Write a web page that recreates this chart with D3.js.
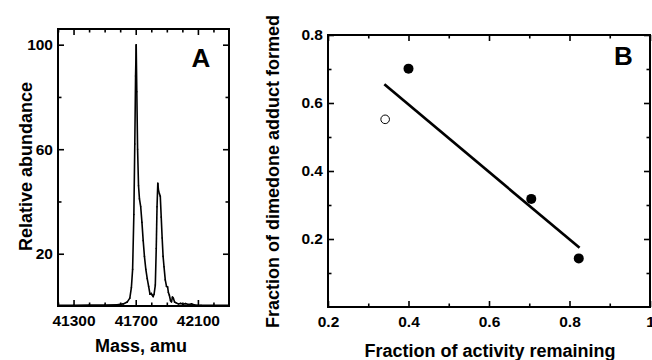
<!DOCTYPE html>
<html>
<head>
<meta charset="utf-8">
<script src="https://cdn.jsdelivr.net/npm/d3@7"></script>
<style>
  body { margin: 0; background: #fff; }
  text { font-family: "Liberation Sans", Arial, sans-serif; font-weight: bold; fill: #000; }
</style>
</head>
<body>
<div class="box"></div>
<script>
// Panel A - mass spectrum
const massValues = [41200, 41300, 41400, 41500, 41580, 41620, 41645, 41662, 41672, 41680,
  41688, 41694, 41699, 41703, 41707, 41712, 41718, 41724, 41732, 41740,
  41748, 41756, 41765, 41774, 41783, 41792, 41800, 41806, 41812, 41818,
  41826, 41832, 41837, 41842, 41847, 41852, 41858, 41864, 41870, 41876,
  41882, 41890, 41898, 41905, 41910, 41916, 41924, 41930, 41936, 41942,
  41950, 41960, 41975, 41990, 42005, 42020, 42040, 42060, 42080, 42120,
  42200, 42300];
const abundanceValues = [0.3, 0.3, 0.4, 0.4, 0.5, 0.8, 1.5, 3, 7, 14,
  35, 62, 88, 100, 82, 60, 46, 41, 38, 32,
  25, 19, 14, 10.5, 7.5, 4.5, 4.8, 4.2, 3.6, 4.5,
  8, 22, 38, 47, 44, 43, 42, 34, 26, 19,
  15, 10, 7.5, 7.3, 5.2, 4.2, 2, 1.6, 3.4, 3,
  1.5, 1.2, 0.8, 1, 0.7, 0.9, 0.6, 0.8, 0.4, 0.3,
  0.3, 0.3];
const massTicks = [41300, 41700, 42100];
const massMinor = [41200, 41400, 41500, 41600, 41800, 41900, 42000, 42200];
const abundanceTicks = [20, 60, 100];
const abundanceMinor = [40, 80];

// Panel B - adduct vs activity
const activityFilled = [0.40, 0.705, 0.823];
const adductFilled = [0.701, 0.318, 0.143];
const activityOpen = [0.342];
const adductOpen = [0.552];
const fitActivity = [0.34, 0.825];
const fitAdduct = [0.655, 0.174];
const activityTicks = [0.2, 0.4, 0.6, 0.8, 1];
const activityMinor = [0.3, 0.5, 0.7, 0.9];
const adductTicks = [0.2, 0.4, 0.6, 0.8];
const adductMinor = [0.1, 0.3, 0.5, 0.7];

const svg = d3.select('.box')
              .append('svg')
              .attr('width', 652)
              .attr('height', 360);

// frame + ticks on all four sides, pointing in
function frameAxes(g, x, y, w, h, xMaj, xMin, yMaj, yMin, xFmt, yFmt) {
    g.append('rect')
     .attr('width', w)
     .attr('height', h)
     .attr('fill', 'none')
     .attr('stroke', 'black')
     .attr('stroke-width', 2);

    const sides = [
        [d3.axisBottom(x).tickValues(xMaj).tickSize(-6).tickPadding(9).tickFormat(xFmt), `translate(0,${h})`],
        [d3.axisBottom(x).tickValues(xMin).tickSize(-3.5).tickFormat(''), `translate(0,${h})`],
        [d3.axisTop(x).tickValues(xMaj).tickSize(-6).tickFormat(''), 'translate(0,0)'],
        [d3.axisTop(x).tickValues(xMin).tickSize(-3.5).tickFormat(''), 'translate(0,0)'],
        [d3.axisLeft(y).tickValues(yMaj).tickSize(-6).tickPadding(5).tickFormat(yFmt), 'translate(0,0)'],
        [d3.axisLeft(y).tickValues(yMin).tickSize(-3.5).tickFormat(''), 'translate(0,0)'],
        [d3.axisRight(y).tickValues(yMaj).tickSize(-6).tickFormat(''), `translate(${w},0)`],
        [d3.axisRight(y).tickValues(yMin).tickSize(-3.5).tickFormat(''), `translate(${w},0)`]
    ];
    sides.forEach(([axis, tr]) => {
        const a = g.append('g').attr('transform', tr).call(axis);
        a.select('.domain').remove();
        a.selectAll('.tick line').attr('stroke-width', 1.6);
        a.selectAll('.tick text').attr('font-size', 15.5);
    });
}

// ---- Panel A ----
const wA = 171, hA = 277;
const graphA = svg.append('g').attr('transform', 'translate(58,29)');

const xA = d3.scaleLinear().domain([41200, 42300]).range([0, wA]);
const yA = d3.scaleLinear().domain([0, 106]).range([hA, 0]);

frameAxes(graphA, xA, yA, wA, hA, massTicks, massMinor, abundanceTicks, abundanceMinor,
          d3.format('d'), d3.format('d'));

// spectrum drawn as joined segments between consecutive readings
const segs = d3.pairs(d3.range(massValues.length));
graphA.selectAll('line.spec')
      .data(segs)
      .enter()
      .append('line')
      .attr('class', 'spec')
      .attr('x1', d => xA(massValues[d[0]]))
      .attr('y1', d => yA(abundanceValues[d[0]]))
      .attr('x2', d => xA(massValues[d[1]]))
      .attr('y2', d => yA(abundanceValues[d[1]]))
      .attr('stroke', 'black')
      .attr('stroke-width', 1.6)
      .attr('stroke-linecap', 'round');

svg.append('text').attr('x', 191.5).attr('y', 66.5).attr('font-size', 26).text('A');
svg.append('text').attr('x', 141).attr('y', 351.5).attr('font-size', 18)
   .attr('text-anchor', 'middle').text('Mass, amu');
svg.append('text').attr('transform', 'translate(31.5,166.5) rotate(-90)')
   .attr('font-size', 18).attr('text-anchor', 'middle').text('Relative abundance');

// ---- Panel B ----
const wB = 322, hB = 272;
const graphB = svg.append('g').attr('transform', 'translate(328,35)');

const xB = d3.scaleLinear().domain([0.2, 1.0]).range([0, wB]);
const yB = d3.scaleLinear().domain([0, 0.8]).range([hB, 0]);

frameAxes(graphB, xB, yB, wB, hB, activityTicks, activityMinor, adductTicks, adductMinor,
          d => d === 1 ? '1' : d3.format('.1f')(d), d3.format('.1f'));

graphB.append('line')
      .attr('x1', xB(fitActivity[0])).attr('y1', yB(fitAdduct[0]))
      .attr('x2', xB(fitActivity[1])).attr('y2', yB(fitAdduct[1]))
      .attr('stroke', 'black')
      .attr('stroke-width', 2.7);

graphB.selectAll('circle.filled')
      .data(activityFilled)
      .enter()
      .append('circle')
      .attr('class', 'filled')
      .attr('cx', d => xB(d))
      .attr('cy', (d, i) => yB(adductFilled[i]))
      .attr('r', 5)
      .attr('fill', 'black');

graphB.selectAll('circle.open')
      .data(activityOpen)
      .enter()
      .append('circle')
      .attr('class', 'open')
      .attr('cx', d => xB(d))
      .attr('cy', (d, i) => yB(adductOpen[i]))
      .attr('r', 4.3)
      .attr('fill', 'white')
      .attr('stroke', 'black')
      .attr('stroke-width', 1);

svg.append('text').attr('x', 614).attr('y', 65).attr('font-size', 26).text('B');
svg.append('text').attr('x', 490).attr('y', 357).attr('font-size', 18)
   .attr('text-anchor', 'middle').text('Fraction of activity remaining');
svg.append('text').attr('transform', 'translate(279,171.5) rotate(-90)')
   .attr('font-size', 18).attr('text-anchor', 'middle').text('Fraction of dimedone adduct formed');
</script>
</body>
</html>
